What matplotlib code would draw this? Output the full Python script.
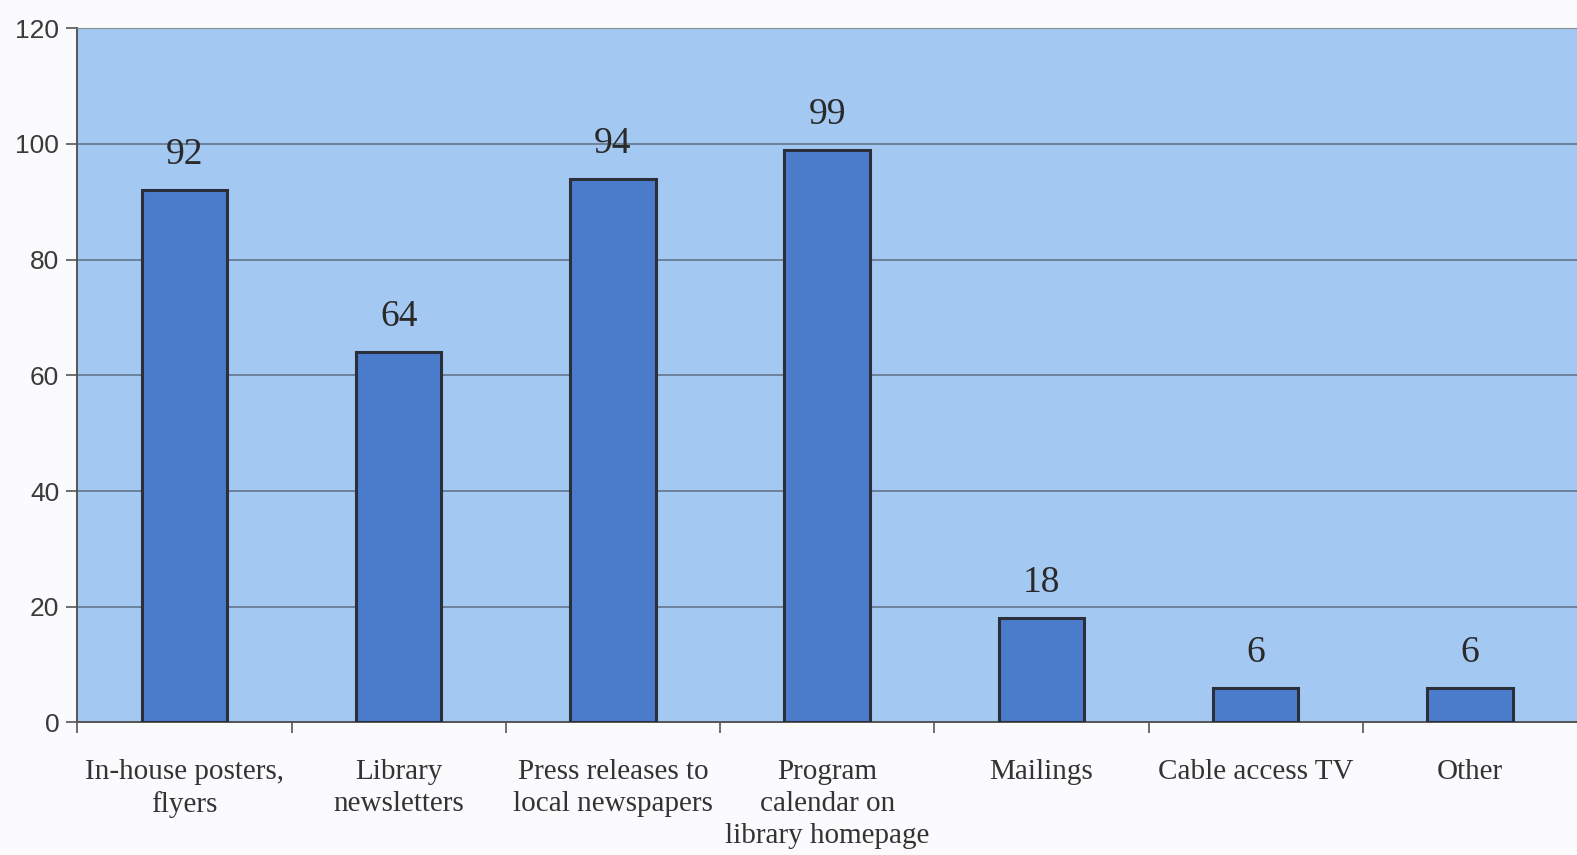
import matplotlib.pyplot as plt

# promotion methods and counts
categories = ["In-house posters,\nflyers", "Library\nnewsletters", "Press releases to\nlocal newspapers",
              "Program\ncalendar on\nlibrary homepage", "Mailings", "Cable access TV", "Other"]
values = [92, 64, 94, 99, 18, 6, 6]
yticks = [0, 20, 40, 60, 80, 100, 120]

fig = plt.figure(figsize=(15.77, 8.55), dpi=100)
fig.patch.set_facecolor("#fbfbfd")
ax = fig.add_axes([0.049, 0.155, 0.951, 0.812])
ax.set_facecolor("#a3c8f2")

x = list(range(len(categories)))
bars = ax.bar(x, values, width=0.4, color="#4a7ccb", edgecolor="#2b2f3a", linewidth=2.2, zorder=3)

# value labels above bars
for xi, v in zip(x, values):
    ax.annotate(str(v), (xi, v), xytext=(0, 13), textcoords="offset points",
                ha="center", va="bottom", fontsize=27, family="Liberation Serif", color="#2a2a2a")

ax.set_ylim(0, 120)
ax.set_xlim(-0.5, len(categories) - 0.5)
ax.set_yticks(yticks)
ax.set_yticklabels([str(t) for t in yticks], fontsize=19, family="Liberation Sans", color="#3a3a3a")
ax.yaxis.grid(True, color="#62768a", linewidth=1.2, zorder=1)
ax.tick_params(axis="y", length=8, width=1.2, color="#555555", pad=5)

# x ticks at category boundaries, labels centered under bars
ax.set_xticks([i + 0.5 for i in x[:-1]] + [-0.5])
ax.set_xticklabels([])
ax.set_xticks(x, minor=True)
ax.set_xticklabels(categories, minor=True, fontsize=21, family="Liberation Serif", color="#333333",
                   linespacing=1.3)
ax.tick_params(axis="x", which="major", length=8, width=1.2, color="#555555", direction="out")
ax.tick_params(axis="x", which="minor", length=0, pad=26)

ax.spines["right"].set_visible(False)
ax.spines["top"].set_color("#8a8f95")
ax.spines["left"].set_color("#555555")
ax.spines["bottom"].set_color("#555555")
ax.spines["left"].set_linewidth(1.4)
ax.spines["bottom"].set_linewidth(1.4)

fig.savefig("out.png", dpi=100, facecolor=fig.get_facecolor())
